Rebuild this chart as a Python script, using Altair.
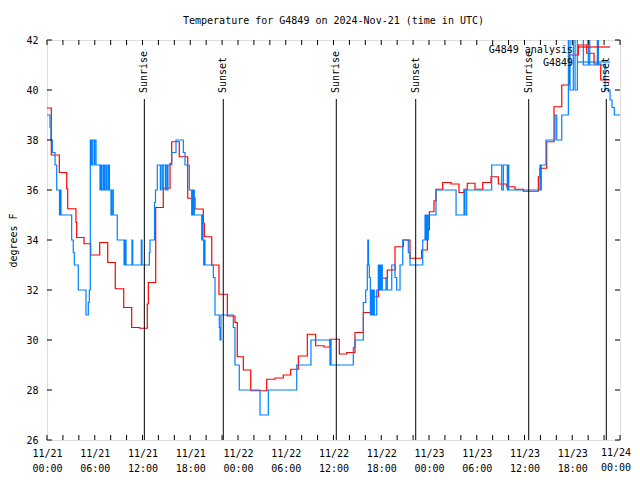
import altair as alt
import pandas as pd

# hours since 2024-11-21 00:00 UTC
red_hours = [0, 0.54, 1.55, 2.48, 2.60, 3.64, 3.73, 4.65, 5.49, 6.62, 7.63, 8.58, 9.64, 10.64,
             11.65, 12.60, 12.73, 13.66, 14.61, 15.46, 15.67, 16.62, 17.68, 18.60, 19.64, 19.77,
             20.70, 21.61, 22.66, 23.62, 23.91, 24.67, 25.60, 27.61, 28.65, 29.69, 30.62, 31.58,
             32.71, 33.76, 34.81, 35.56, 36.73, 37.66, 38.70, 39.75, 40.80, 41.63, 41.84, 42.76,
             43.73, 44.77, 45.61, 47.08, 47.79, 48.04, 48.63, 48.88, 49.72, 50.77, 51.77, 52.40,
             52.81, 53.78, 54.75, 55.79, 56.71, 57.77, 58.81, 59.85, 61.74, 61.95, 62.79, 63.71,
             64.68, 65.63, 66.76, 67.82, 68.74, 69.58, 70.75]
red_temps = [39.28, 37.4, 36.7, 36.05, 35.25, 34.7, 34.1, 33.85, 33.4, 33.9, 33.1, 32.05, 31.3, 30.5,
             30.47, 31.44, 32.3, 35.3, 36.07, 37.07, 37.93, 37.33, 35.67, 35.24, 34.67, 34.13,
             33.0, 31.83, 30.96, 30.7, 29.33, 28.8, 27.97, 28.43, 28.48, 28.6, 28.83, 29.36,
             30.23, 29.77, 29.72, 30.03, 29.44, 29.5, 30.3, 31.1, 31.73, 32.0, 32.47, 32.8,
             33.73, 34.0, 33.27, 33.6, 34.4, 35.13, 35.57, 36.03, 36.3, 36.24, 35.9, 36.03,
             36.27, 36.03, 36.3, 36.53, 36.24, 36.13, 36.03, 35.95, 36.53, 36.87, 37.93, 39.33,
             40.2, 41.4, 41.8, 41.47, 41.04, 40.4, 40.4]

blue_hours = [0, 0.38, 0.50, 0.67, 1.01, 1.22, 1.57, 1.67, 1.76, 3.10, 3.30, 3.43, 3.93, 4.90,
              5.19, 5.32, 5.44, 5.57, 5.69, 5.91, 5.99, 6.16, 6.66, 6.79, 6.91, 7.10, 7.23, 7.41,
              7.54, 7.73, 7.85, 8.04, 8.17, 8.33, 8.83, 9.68, 9.80, 9.93, 10.68, 10.77, 11.85,
              11.94, 12.86, 12.94, 13.51, 13.63, 13.86, 14.24, 14.33, 14.54, 14.61, 14.87, 14.95,
              15.12, 15.20, 15.67, 16.21, 17.13, 17.34, 17.88, 18.18, 18.26, 18.35, 18.43, 18.51,
              19.44, 19.52, 19.60, 19.69, 19.77, 19.85, 20.90, 21.11, 21.65, 21.74, 21.86, 23.41,
              23.62, 24.16, 26.77, 27.81, 31.38, 33.17, 35.56, 35.62, 35.69, 38.49, 38.70, 39.75,
              40.05, 40.25, 40.31, 40.40, 40.50, 40.63, 40.71, 40.80, 40.88, 40.97, 41.05, 41.13,
              41.43, 41.63, 41.72, 41.85, 41.93, 42.06, 42.13, 42.60, 42.76, 43.32, 43.73, 43.94,
              44.36, 44.70, 45.40, 45.61, 47.21, 47.50, 47.62, 47.75, 47.84, 47.91, 48.88, 51.40,
              52.40, 52.53, 52.74, 55.88, 57.14, 57.34, 57.84, 57.93, 58.02, 61.95, 62.04, 62.11,
              62.70, 63.84, 64.05, 64.68, 65.51, 65.72, 66.13, 66.35, 66.64, 67.39, 68.02, 68.20,
              69.15, 69.28, 70.12, 70.75, 71.00, 71.29, 72.0]
blue_temps = [39, 38.5, 38, 37.5, 37, 36, 35, 36, 35, 34, 33.5, 33, 32, 31,
              31.5, 32, 38, 37, 38, 37, 38, 37, 36, 37, 36, 37, 36, 37,
              36, 37, 36, 35, 36, 35, 34, 33, 34, 33, 34, 33, 34,
              33, 33.5, 34, 35.5, 36, 37, 36, 37, 36, 37, 36, 37,
              36, 37, 37.5, 38, 37.5, 37, 36, 35, 36, 35, 36, 35,
              34, 35, 34, 33, 34, 33, 32.5, 31, 30.5, 30, 31, 30.5,
              29, 28, 27, 28, 29, 30, 29, 30, 29, 29.7, 30, 31.5,
              32, 33, 34, 33, 32.5, 31, 32, 31, 32, 31, 32, 31,
              32, 33, 32, 33, 32, 33, 32, 32.5, 32, 33, 32.5, 32,
              33, 34, 33.5, 33, 34, 35, 34, 35, 34, 35, 36, 35,
              36, 35, 36, 37, 36, 37, 36, 37, 36, 37, 36, 37,
              38, 39, 38, 39, 42.5, 40, 42.5, 40, 42.5, 41, 42.5, 41,
              42.5, 41, 40, 39.6, 39.3, 39, 39]

sun_hours = [12.23, 22.15, 36.35, 46.33, 60.53, 70.28]
sun_labels = ["Sunrise", "Sunset", "Sunrise", "Sunset", "Sunrise", "Sunset"]

x_label_hours = [0, 6, 12, 18, 24, 30, 36, 42, 48, 54, 60, 66, 72]
x_minor_hours = [0, 2, 4, 6, 8, 10, 12, 14, 16, 18, 20, 22, 24, 26, 28, 30, 32, 34, 36,
                 38, 40, 42, 44, 46, 48, 50, 52, 54, 56, 58, 60, 62, 64, 66, 68, 70, 72]
y_ticks = [26, 28, 30, 32, 34, 36, 38, 40, 42]

series_names = ["G4849 analysis", "G4849"]
series_colors = ["#ff0000", "#0080ff"]

W, H = 573, 400
FONT = "DejaVu Sans Mono"
TICK = 5
LAB_PAD = 8
LAB_LH = 15

red_df = pd.DataFrame({"h": red_hours, "t": red_temps})
blue_df = pd.DataFrame({"h": blue_hours, "t": blue_temps})
sun_df = pd.DataFrame({"h": sun_hours, "label": sun_labels})
xt_df = pd.DataFrame({"h": x_minor_hours})
yt_df = pd.DataFrame({"t": y_ticks})
one = pd.DataFrame({"a": [0]})

last_h = x_label_hours[-1]
last_day = "11/%d" % (21 + last_h // 24)
last_time = "%02d:00" % (last_h % 24)
last_df = pd.DataFrame({"h": [last_h]})

x_scale = alt.Scale(domain=[0, 72], nice=False, zero=False)
y_scale = alt.Scale(domain=[26, 42], nice=False, zero=False)

x_axis = alt.Axis(
    values=x_label_hours,
    labelExpr="datum.value >= 72 ? '' : ['11/' + (21 + floor(datum.value / 24)), (datum.value % 24 < 10 ? '0' : '') + (datum.value % 24) + ':00']",
    ticks=False, domain=False, grid=False, title=None,
    labelFont=FONT, labelFontSize=10, labelColor="black",
    labelPadding=LAB_PAD, labelLineHeight=LAB_LH, labelOverlap=False, labelFlush=False,
)
y_axis = alt.Axis(
    values=y_ticks, ticks=False, domain=False, grid=False,
    labelFont=FONT, labelFontSize=10, labelColor="black", labelPadding=9,
    title="degrees F", titleFont=FONT, titleFontSize=10, titleFontWeight="normal",
    titleColor="black", titleX=-34, titleY=200, titleAngle=270,
    titleAlign="center", titleBaseline="middle",
)

X = lambda: alt.X("h:Q", scale=x_scale, axis=x_axis)
Y = lambda: alt.Y("t:Q", scale=y_scale, axis=y_axis)

red = alt.Chart(red_df).mark_line(
    interpolate="step-after", color=series_colors[0], strokeWidth=1.2, clip=True
).encode(x=X(), y=Y())

blue = alt.Chart(blue_df).mark_line(
    interpolate="step-after", color=series_colors[1], strokeWidth=1.2, clip=True
).encode(x=X(), y=Y())

sun_rules = alt.Chart(sun_df).mark_rule(color="black", strokeWidth=1).encode(
    x=X(), y=alt.value(59), y2=alt.value(H)
)
sun_text = alt.Chart(sun_df).mark_text(
    angle=270, align="left", baseline="middle", font=FONT, fontSize=10, color="black"
).encode(x=X(), y=alt.value(53), text="label:N")

tick_bottom = alt.Chart(xt_df).mark_rule(color="black").encode(
    x=X(), y=alt.value(H), y2=alt.value(H - TICK))
tick_top = alt.Chart(xt_df).mark_rule(color="black").encode(
    x=X(), y=alt.value(0), y2=alt.value(TICK))
tick_left = alt.Chart(yt_df).mark_rule(color="black").encode(
    y=Y(), x=alt.value(0), x2=alt.value(TICK))
tick_right = alt.Chart(yt_df).mark_rule(color="black").encode(
    y=Y(), x=alt.value(W - TICK), x2=alt.value(W))

# last x label, nudged left so it is not cut at the page edge
last_day_txt = alt.Chart(last_df).mark_text(
    align="center", baseline="top", font=FONT, fontSize=10, color="black", dx=-4
).encode(x=X(), y=alt.value(H + LAB_PAD), text=alt.value(last_day))
last_time_txt = alt.Chart(last_df).mark_text(
    align="center", baseline="top", font=FONT, fontSize=10, color="black", dx=-4
).encode(x=X(), y=alt.value(H + LAB_PAD + LAB_LH), text=alt.value(last_time))

leg_red_text = alt.Chart(one).mark_text(
    align="right", baseline="middle", font=FONT, fontSize=10, color="black"
).encode(x=alt.value(526), y=alt.value(10), text=alt.value(series_names[0]))
leg_blue_text = alt.Chart(one).mark_text(
    align="right", baseline="middle", font=FONT, fontSize=10, color="black"
).encode(x=alt.value(526), y=alt.value(23), text=alt.value(series_names[1]))
leg_red_line = alt.Chart(one).mark_rule(color=series_colors[0], strokeWidth=1.2).encode(
    x=alt.value(531), x2=alt.value(563), y=alt.value(7))
leg_blue_line = alt.Chart(one).mark_rule(color=series_colors[1], strokeWidth=1.2).encode(
    x=alt.value(531), x2=alt.value(563), y=alt.value(22))

chart = alt.layer(
    red, blue, sun_rules, sun_text, tick_bottom, tick_top, tick_left, tick_right,
    last_day_txt, last_time_txt,
    leg_red_line, leg_blue_line, leg_red_text, leg_blue_text,
).properties(
    width=W, height=H,
    title=alt.TitleParams(
        "Temperature for G4849 on 2024-Nov-21 (time in UTC)",
        font=FONT, fontSize=10, fontWeight="normal", color="black",
        anchor="middle", frame="group", offset=9,
    ),
    autosize=alt.AutoSizeParams(type="none"),
    padding={"left": 39, "top": 32, "right": 12, "bottom": 32},
).configure_view(
    stroke="black", strokeWidth=1
).configure(background="white")

chart.save("out.html", embed_options={"renderer": "svg", "actions": False})
